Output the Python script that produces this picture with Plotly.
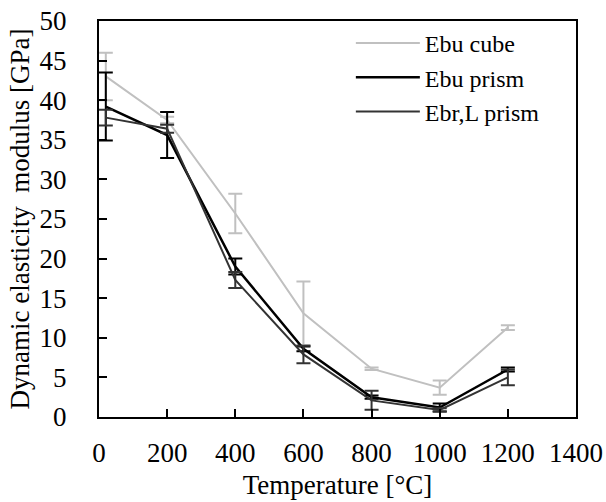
import plotly.graph_objects as go

temperature = [20, 200, 400, 600, 800, 1000, 1200]

ebu_cube = [43.0, 37.5, 25.7, 13.1, 6.1, 3.7, 11.3]
ebu_cube_err = [3.0, 0.4, 2.5, 4.0, 0.15, 0.9, 0.3]

ebu_prism = [39.2, 35.6, 19.0, 8.6, 2.5, 1.2, 6.0]
ebu_prism_err = [4.3, 2.9, 1.0, 0.3, 0.2, 0.5, 0.25]

ebrl_prism = [37.8, 36.4, 17.3, 7.9, 2.1, 0.9, 5.0]
ebrl_prism_err = [1.0, 0.5, 1.0, 1.1, 1.2, 0.2, 1.0]

FONT = "Liberation Serif, Times New Roman, serif"

fig = go.Figure()
fig.add_trace(go.Scatter(
    x=temperature, y=ebu_cube, name="Ebu cube", mode="lines",
    line=dict(color="#c0c0c0", width=2),
    error_y=dict(type="data", array=ebu_cube_err, color="#c0c0c0", thickness=2, width=7),
))
fig.add_trace(go.Scatter(
    x=temperature, y=ebu_prism, name="Ebu prism", mode="lines",
    line=dict(color="#000000", width=2.5),
    error_y=dict(type="data", array=ebu_prism_err, color="#000000", thickness=2, width=7),
))
fig.add_trace(go.Scatter(
    x=temperature, y=ebrl_prism, name="Ebr,L prism", mode="lines",
    line=dict(color="#333333", width=2),
    error_y=dict(type="data", array=ebrl_prism_err, color="#333333", thickness=2, width=7),
))

fig.update_layout(
    width=606, height=502,
    margin=dict(l=99, r=30, t=21, b=85),
    paper_bgcolor="white", plot_bgcolor="white",
    font=dict(family=FONT, size=26, color="black"),
    showlegend=True,
    legend=dict(x=0.528, y=1.0, xanchor="left", yanchor="top",
                bgcolor="rgba(0,0,0,0)", font=dict(family=FONT, size=24, color="black"),
                itemwidth=64),
)
fig.update_xaxes(
    range=[0, 1400], tickvals=[0, 200, 400, 600, 800, 1000, 1200, 1400],
    ticks="inside", ticklen=8, tickwidth=2, tickcolor="black",
    showline=True, linecolor="black", linewidth=2, mirror=True,
    showgrid=False, zeroline=False, automargin=False,
    ticklabelstandoff=11,
    tickfont=dict(family=FONT, size=27, color="black"),
    title=dict(text="Temperature [°C]", font=dict(family=FONT, size=27, color="black"), standoff=8),
)
fig.update_yaxes(
    range=[0, 50], tickvals=[0, 5, 10, 15, 20, 25, 30, 35, 40, 45, 50],
    ticks="inside", ticklen=8, tickwidth=2, tickcolor="black",
    showline=True, linecolor="black", linewidth=2, mirror=True,
    showgrid=False, zeroline=False, automargin=False,
    ticklabelstandoff=25,
    tickfont=dict(family=FONT, size=27, color="black"),
    title=dict(text="Dynamic elasticity  modulus [GPa]", font=dict(family=FONT, size=27, color="black"), standoff=2),
)

fig.write_html("out.html", config={"displayModeBar": False},
               post_script="document.body.style.margin='0';document.body.style.overflow='hidden';")
